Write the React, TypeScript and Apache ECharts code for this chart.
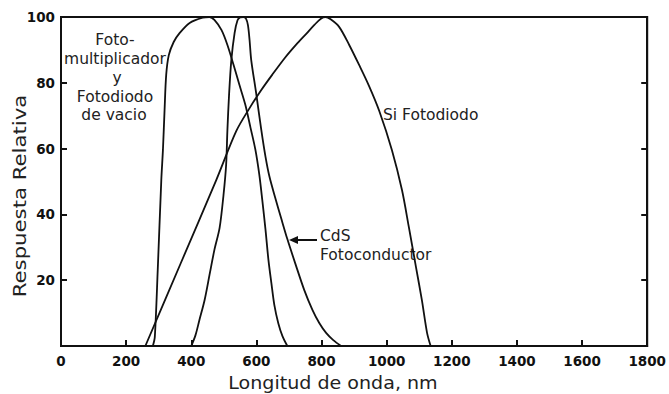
import React, { useEffect, useRef } from "react";
import * as echarts from "echarts";

// Photomultiplier / vacuum photodiode
const pmNm = [282, 288, 297, 308, 313, 318, 323, 331, 346, 364, 395, 435, 456, 471, 493, 511, 530, 548, 566, 582, 597, 609, 618, 628, 637, 646, 655, 667, 680, 695];
const pmVal = [0, 2.7, 23, 50.5, 59.6, 71.7, 82.4, 88.4, 92.4, 95.1, 98.2, 99.8, 100, 99.1, 96, 91.5, 85.4, 79.3, 73.3, 66.3, 59.6, 52, 44.4, 35.3, 26.1, 19.1, 12.5, 7, 3, 0];

// CdS photoconductor
const cdsNm = [400, 413, 425, 441, 456, 471, 487, 499, 507, 511, 516, 523, 533, 542, 550, 560, 568, 574, 579, 584, 599, 615, 628, 640, 658, 677, 695, 719, 747, 772, 793, 814, 836, 860];
const cdsVal = [0, 3.3, 7.9, 14, 21.6, 29.2, 35.9, 45.9, 55, 65.7, 76.3, 86.9, 95.1, 99, 99.9, 100, 99.5, 97.5, 93, 87, 77, 65.7, 57.5, 51.5, 45, 38.5, 32.5, 25.2, 17, 11, 7, 4, 1.8, 0];

// Si photodiode
const siNm = [259, 367, 477, 538, 579, 615, 649, 686, 722, 753, 778, 798, 812, 828, 854, 885, 915, 946, 977, 1016, 1047, 1068, 1090, 1108, 1124, 1135];
const siVal = [0, 25, 50.5, 65.3, 72.3, 77.8, 82.5, 87.4, 91.6, 94.9, 97.6, 99.5, 100, 99.3, 97, 91.5, 85.5, 79, 71.5, 59.6, 47.4, 36.2, 24, 14, 4, 0];

const xTicks = [0, 200, 400, 600, 800, 1000, 1200, 1400, 1600, 1800];
const yTicks = [0, 20, 40, 60, 80, 100];

const pair = (xs: number[], ys: number[]) => xs.map((x, i) => [x, ys[i]]);

const FONT = "DejaVu Sans";

export default function App() {
  const ref = useRef<HTMLDivElement>(null);
  useEffect(() => {
    if (!ref.current) return;
    const chart = echarts.init(ref.current, null, { renderer: "svg" });
    const lineStyle = { color: "#111", width: 1.8 };
    const mkSeries = (name: string, data: number[][]) => ({
      name,
      type: "line",
      data,
      smooth: 0.3,
      showSymbol: false,
      symbol: "none",
      lineStyle,
      clip: true,
    });
    const annot = (text: string, x: number, y: number, align = "center") => ({
      type: "text",
      x,
      y,
      style: {
        text,
        fontFamily: FONT,
        fontSize: 15.5,
        fill: "#222",
        textAlign: align,
        textVerticalAlign: "middle",
      },
    });
    const axisLine = { show: true, lineStyle: { color: "#111", width: 2 } };
    const axisTick = { show: true, inside: true, length: 6, lineStyle: { color: "#111", width: 2 } };
    const labelFont = { fontFamily: FONT, fontWeight: "bold", fontSize: 13.5, color: "#111" };
    chart.setOption({
      animation: false,
      backgroundColor: "#fff",
      grid: {
        left: 61,
        right: 20,
        top: 17,
        bottom: 48,
        show: true,
        borderColor: "#111",
        borderWidth: 2,
        backgroundColor: "transparent",
      },
      xAxis: [
        {
          type: "value",
          min: xTicks[0],
          max: xTicks[xTicks.length - 1],
          interval: 200,
          axisLine,
          axisTick,
          axisLabel: { margin: 8, ...labelFont, formatter: (v: number) => String(v) },
          splitLine: { show: false },
        },
      ],
      yAxis: [
        {
          type: "value",
          min: yTicks[0],
          max: yTicks[yTicks.length - 1],
          interval: 20,
          axisLine,
          axisTick,
          axisLabel: {
            margin: 6,
            ...labelFont,
            formatter: (v: number) => (v === 0 ? "" : String(v)),
          },
          splitLine: { show: false },
        },
        {
          type: "value",
          position: "right",
          min: yTicks[0],
          max: yTicks[yTicks.length - 1],
          interval: 20,
          axisLine,
          axisTick,
          axisLabel: { show: false },
          splitLine: { show: false },
        },
      ],
      series: [
        mkSeries("Fotomultiplicador y Fotodiodo de vacio", pair(pmNm, pmVal)),
        mkSeries("CdS Fotoconductor", pair(cdsNm, cdsVal)),
        mkSeries("Si Fotodiodo", pair(siNm, siVal)),
      ],
      graphic: [
        annot("Foto-", 115, 40),
        annot("multiplicador", 115, 59),
        annot("y", 117, 78),
        annot("Fotodiodo", 115, 97),
        annot("de vacio", 114, 115),
        annot("Si Fotodiodo", 383, 115, "left"),
        annot("CdS", 320, 236, "left"),
        annot("Fotoconductor", 320, 255, "left"),
        {
          type: "line",
          shape: { x1: 295, y1: 240, x2: 317, y2: 240 },
          style: { stroke: "#111", lineWidth: 2 },
        },
        {
          type: "polygon",
          shape: { points: [[289, 240], [298, 236], [298, 244]] },
          style: { fill: "#111" },
        },
        {
          type: "text",
          x: 333,
          y: 383,
          scaleX: 1.06,
          style: {
            text: "Longitud de onda, nm",
            fontFamily: FONT,
            fontSize: 18,
            fill: "#222",
            textAlign: "center",
            textVerticalAlign: "middle",
          },
        },
        {
          type: "text",
          x: 20,
          y: 196,
          rotation: Math.PI / 2,
          scaleX: 1.18,
          style: {
            text: "Respuesta Relativa",
            fontFamily: FONT,
            fontSize: 18,
            fill: "#222",
            textAlign: "center",
            textVerticalAlign: "middle",
          },
        },
      ],
    });
    return () => chart.dispose();
  }, []);
  return (
    <div
      ref={ref}
      style={{ position: "fixed", left: 0, top: 0, width: 669, height: 394, background: "#fff" }}
    />
  );
}
